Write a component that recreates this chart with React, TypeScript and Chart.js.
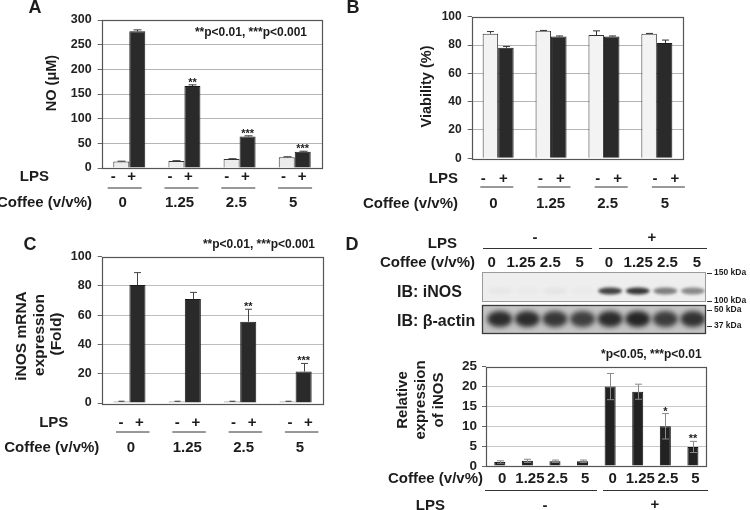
import React, { useEffect, useRef } from 'react';
import { Chart, registerables } from 'chart.js';
Chart.register(...registerables);

const FONT = '"Liberation Sans", Arial, Helvetica, sans-serif';
const INK = '#1c1c1c';

// ---------------- data ----------------
const coffeeLevels = ['0', '1.25', '2.5', '5'];
const lpsSigns = ['-', '+'];

// A: NO production
const noLpsMinus = [13, 14, 18, 22];
const noLpsPlus = [277, 166, 64, 33];
const noErrMinus = [0.8, 0.8, 0.8, 0.8];
const noErrPlus = [3, 2.5, 1.2, 1];
const noStars = ['', '**', '***', '***'];
const noTicks = [0, 50, 100, 150, 200, 250, 300];

// B: viability
const viabLpsMinus = [88, 90, 87, 88];
const viabLpsPlus = [78, 86, 86, 81.5];
const viabErrMinus = [1.5, 0.3, 3, 0.2];
const viabErrPlus = [1, 0.4, 0.4, 2];
const viabTicks = [0, 20, 40, 60, 80, 100];

// C: iNOS mRNA
const mrnaLpsMinus = [1, 1, 1, 1];
const mrnaLpsPlus = [80.5, 71, 55.5, 21.5];
const mrnaErrMinus = [0.2, 0.2, 0.2, 0.2];
const mrnaErrPlus = [8.5, 4.5, 8.5, 5.5];
const mrnaStars = ['', '', '**', '***'];
const mrnaTicks = [0, 20, 40, 60, 80, 100];

// D: western blot + relative iNOS
const blotCoffee = ['0', '1.25', '2.5', '5', '0', '1.25', '2.5', '5'];
const relInos = [1.0, 1.3, 1.2, 1.2, 20, 18.7, 10, 4.8];
const relInosErr = [0.3, 0.4, 0.3, 0.3, 3.3, 1.9, 3.2, 1.4];
const relStars = ['', '', '', '', '', '', '*', '**'];
const relTicks = [0, 5, 10, 15, 20, 25];
const inosBand = [0.03, 0.02, 0.04, 0.02, 0.85, 0.9, 0.55, 0.5];
const actinBand = [0.92, 0.92, 0.85, 0.8, 0.92, 0.96, 0.82, 0.88];
const kdaInos = ['150 kDa', '100 kDa'];
const kdaActin = ['50 kDa', '37 kDa'];

// ---------------- helpers ----------------
function T(ctx: CanvasRenderingContext2D, s: string, x: number, y: number, size: number,
  align: CanvasTextAlign = 'center', base: CanvasTextBaseline = 'middle', rot = 0, color = INK) {
  ctx.save();
  ctx.font = `bold ${size}px ${FONT}`;
  ctx.fillStyle = color;
  ctx.textAlign = align;
  ctx.textBaseline = base;
  ctx.translate(x, y);
  if (rot) ctx.rotate(rot);
  ctx.fillText(s, 0, 0);
  ctx.restore();
}
function L(ctx: CanvasRenderingContext2D, x1: number, y1: number, x2: number, y2: number, color = '#333', w = 1) {
  ctx.save();
  ctx.strokeStyle = color;
  ctx.lineWidth = w;
  ctx.beginPath();
  ctx.moveTo(x1, y1);
  ctx.lineTo(x2, y2);
  ctx.stroke();
  ctx.restore();
}

function rows(ctx: CanvasRenderingContext2D, r: any) {
  T(ctx, 'LPS', r.lpsRight, r.lpsY, 15, 'right');
  T(ctx, 'Coffee (v/v%)', r.coffeeRight, r.coffeeY, 15, 'right');
  coffeeLevels.forEach((c, i) => {
    const cx = r.x0 + i * r.step;
    T(ctx, lpsSigns[0], cx + r.mOff, r.lpsY, 15);
    T(ctx, lpsSigns[1], cx + r.pOff, r.lpsY, 15);
    L(ctx, cx + r.l0, r.lineY + 0.5, cx + r.l1, r.lineY + 0.5, '#333', 1);
    T(ctx, c, cx, r.coffeeY, 15);
  });
}

const errorBars = {
  id: 'errorBars',
  afterDatasetsDraw(chart: any) {
    const ctx = chart.ctx;
    const ys = chart.scales.y;
    chart.data.datasets.forEach((ds: any, di: number) => {
      if (!ds.errUp) return;
      const meta = chart.getDatasetMeta(di);
      meta.data.forEach((bar: any, i: number) => {
        const v = ds.data[i];
        const e = ds.errUp[i];
        const x = Math.round(bar.x) + 0.5;
        const yTop = ys.getPixelForValue(v + e);
        const yBot = ys.getPixelForValue(ds.errSym ? v - e : v);
        const c = (ds.capW || 7) / 2;
        ctx.save();
        ctx.strokeStyle = ds.errColor || '#333';
        ctx.lineWidth = 1;
        ctx.beginPath();
        ctx.moveTo(x, yBot);
        ctx.lineTo(x, yTop);
        ctx.moveTo(x - c, yTop);
        ctx.lineTo(x + c, yTop);
        if (ds.errSym) {
          ctx.moveTo(x - c, yBot);
          ctx.lineTo(x + c, yBot);
        }
        ctx.stroke();
        ctx.restore();
        if (ds.stars && ds.stars[i]) T(ctx, ds.stars[i], bar.x, yTop + 1, 11, 'center', 'alphabetic');
      });
    });
  },
};

const frame = {
  id: 'frame',
  beforeDatasetsDraw(chart: any) {
    const { ctx, chartArea: a } = chart;
    ctx.save();
    ctx.strokeStyle = '#555';
    ctx.lineWidth = 1.2;
    ctx.strokeRect(Math.round(a.left) + 0.5, Math.round(a.top) + 0.5, Math.round(a.right - a.left) - 1, Math.round(a.bottom - a.top));
    ctx.restore();
  },
};

function deco(fn: (ctx: CanvasRenderingContext2D, chart: any) => void) {
  return { id: 'deco', afterDraw(chart: any) { fn(chart.ctx, chart); } };
}

function makeBar(canvas: HTMLCanvasElement, o: any) {
  const W = 40;
  const ticks: number[] = o.ticks;
  const max = ticks[ticks.length - 1];
  return new Chart(canvas, {
    type: 'bar',
    data: { labels: o.labels, datasets: o.datasets },
    options: {
      responsive: false,
      animation: false,
      devicePixelRatio: 1,
      events: [],
      layout: {
        autoPadding: false,
        padding: { left: o.area.left - W, right: 750 - o.area.right, top: o.area.top, bottom: 510 - o.area.bottom },
      },
      plugins: { legend: { display: false }, tooltip: { enabled: false } },
      datasets: { bar: { categoryPercentage: o.catPct, barPercentage: 1 } },
      scales: {
        x: { display: false, offset: true, grid: { display: false } },
        y: {
          min: ticks[0],
          max,
          afterFit: (s: any) => { s.width = W; },
          afterBuildTicks: (s: any) => { s.ticks = ticks.map((v) => ({ value: v })); },
          ticks: { font: { family: FONT, size: o.tickSize, weight: 'bold' }, color: '#222', padding: o.tickPad ?? 6 },
          grid: {
            color: (c: any) => (c.tick && (c.tick.value === 0 || c.tick.value === max) ? 'rgba(0,0,0,0)' : o.gridColor),
            tickLength: 4,
            tickColor: '#666',
            lineWidth: 1,
          },
          border: { display: false },
        },
      },
    } as any,
    plugins: [frame, errorBars, deco(o.deco)],
  });
}

const darkBar = { backgroundColor: '#2a2a2a', borderColor: '#1a1a1a', borderWidth: 1 };

export default function App() {
  const rA = useRef<HTMLCanvasElement>(null);
  const rB = useRef<HTMLCanvasElement>(null);
  const rC = useRef<HTMLCanvasElement>(null);
  const rD = useRef<HTMLCanvasElement>(null);

  useEffect(() => {
    const charts: Chart[] = [];

    // ---- A ----
    charts.push(makeBar(rA.current!, {
      labels: coffeeLevels,
      ticks: noTicks,
      tickSize: 12.5,
      gridColor: '#b5b5b5',
      catPct: 0.58,
      area: { left: 101.7, right: 322.3, top: 20, bottom: 168 },
      datasets: [
        { label: 'LPS -', data: noLpsMinus, backgroundColor: '#ececec', borderColor: '#333', borderWidth: 1, errUp: noErrMinus, capW: 8 },
        { label: 'LPS +', data: noLpsPlus, ...darkBar, errUp: noErrPlus, stars: noStars, capW: 8 },
      ],
      deco: (ctx: CanvasRenderingContext2D) => {
        T(ctx, 'A', 35, 8, 18);
        T(ctx, '**p<0.01, ***p<0.001', 307, 33, 12, 'right');
        T(ctx, 'NO (\u03BCM)', 52, 83, 14.5, 'center', 'middle', -Math.PI / 2);
        rows(ctx, { lpsRight: 49, lpsY: 177, lineY: 187.5, coffeeRight: 92, coffeeY: 203, x0: 122.7, step: 56.8, mOff: -9.5, pOff: 9, l0: -15, l1: 19 });
      },
    }));

    // ---- B ----
    charts.push(makeBar(rB.current!, {
      labels: coffeeLevels,
      ticks: viabTicks,
      tickSize: 12,
      gridColor: '#b5b5b5',
      catPct: 0.586,
      area: { left: 471.7, right: 683.3, top: 16.7, bottom: 158.3 },
      datasets: [
        { label: 'LPS -', data: viabLpsMinus, backgroundColor: '#f3f3f3', borderColor: '#333', borderWidth: 1, errUp: viabErrMinus, capW: 7 },
        { label: 'LPS +', data: viabLpsPlus, ...darkBar, errUp: viabErrPlus, capW: 7 },
      ],
      deco: (ctx: CanvasRenderingContext2D) => {
        T(ctx, 'B', 353, 8, 18);
        T(ctx, 'Viability (%)', 427, 86.5, 14.5, 'center', 'middle', -Math.PI / 2);
        rows(ctx, { lpsRight: 458, lpsY: 178.5, lineY: 186.5, coffeeRight: 458, coffeeY: 203.5, x0: 493.3, step: 57.2, mOff: -10, pOff: 10, l0: -13, l1: 20 });
      },
    }));

    // ---- C ----
    charts.push(makeBar(rC.current!, {
      labels: coffeeLevels,
      ticks: mrnaTicks,
      tickSize: 12.5,
      gridColor: '#bdbdbd',
      catPct: 0.58,
      area: { left: 101.7, right: 323.3, top: 256.5, bottom: 403 },
      datasets: [
        { label: 'LPS -', data: mrnaLpsMinus, backgroundColor: '#a8a8a8', borderColor: '#555', borderWidth: 1, errUp: mrnaErrMinus, capW: 6 },
        { label: 'LPS +', data: mrnaLpsPlus, ...darkBar, errUp: mrnaErrPlus, stars: mrnaStars, errColor: '#444', capW: 7 },
      ],
      deco: (ctx: CanvasRenderingContext2D) => {
        T(ctx, 'C', 30, 245, 18);
        T(ctx, '**p<0.01, ***p<0.001', 315, 245, 12, 'right');
        T(ctx, 'iNOS mRNA', 22, 336, 15.5, 'center', 'middle', -Math.PI / 2);
        T(ctx, 'expression', 39.5, 335, 15.5, 'center', 'middle', -Math.PI / 2);
        T(ctx, '(Fold)', 57, 334, 15.5, 'center', 'middle', -Math.PI / 2);
        rows(ctx, { lpsRight: 68.3, lpsY: 423.3, lineY: 431.5, coffeeRight: 99.3, coffeeY: 448.3, x0: 131, step: 56.3, mOff: -10, pOff: 8.5, l0: -15, l1: 18.5 });
      },
    }));

    // ---- D ----
    charts.push(makeBar(rD.current!, {
      labels: blotCoffee,
      ticks: relTicks,
      tickSize: 13.5,
      tickPad: 5,
      gridColor: '#c8c8c8',
      catPct: 0.4,
      area: { left: 486, right: 706.7, top: 366.7, bottom: 466 },
      datasets: [
        { label: 'Relative iNOS', data: relInos, backgroundColor: '#222', borderColor: '#111', borderWidth: 1, errUp: relInosErr, errSym: true, errColor: '#8a8a8a', stars: relStars, capW: 7 },
      ],
      deco: (ctx: CanvasRenderingContext2D, chart: any) => {
        const xs = chart.scales.x;
        T(ctx, 'D', 352, 245, 18);
        // top LPS row
        T(ctx, 'LPS', 457, 243.5, 15, 'right');
        T(ctx, lpsSigns[0], 535, 237.5, 15);
        T(ctx, lpsSigns[1], 652, 237.5, 15);
        L(ctx, 483, 248.5, 592, 248.5);
        L(ctx, 599, 248.5, 707, 248.5);
        // top coffee row
        T(ctx, 'Coffee (v/v%)', 475, 263, 15, 'right');
        blotCoffee.forEach((c, i) => T(ctx, c, 491.7 + i * 29.3, 263, 15));
        // blot labels
        T(ctx, 'IB: iNOS', 397, 293, 16, 'left');
        T(ctx, 'IB: \u03B2-actin', 397, 322, 16, 'left');
        // iNOS blot
        const bx0 = 482, bx1 = 706;
        ctx.save();
        ctx.fillStyle = '#eeeeee';
        ctx.fillRect(bx0, 272, bx1 - bx0, 30);
        ctx.beginPath();
        ctx.rect(bx0, 272, bx1 - bx0, 30);
        ctx.clip();
        inosBand.forEach((a, i) => {
          const cx = xs.getPixelForValue(i);
          ctx.save();
          ctx.filter = 'blur(1.8px)';
          ctx.fillStyle = `rgba(35,35,35,${a})`;
          ctx.beginPath();
          ctx.ellipse(cx, 291, 12, 3.4, 0, 0, Math.PI * 2);
          ctx.fill();
          ctx.restore();
        });
        ctx.restore();
        ctx.save();
        ctx.strokeStyle = '#9a9a9a';
        ctx.lineWidth = 1;
        ctx.strokeRect(bx0 + 0.5, 272.5, bx1 - bx0 - 1, 29);
        ctx.restore();
        // actin blot
        ctx.save();
        ctx.fillStyle = '#c4c4c4';
        ctx.fillRect(bx0, 305, bx1 - bx0, 29);
        ctx.beginPath();
        ctx.rect(bx0, 305, bx1 - bx0, 29);
        ctx.clip();
        actinBand.forEach((a, i) => {
          const cx = xs.getPixelForValue(i);
          ctx.save();
          ctx.filter = 'blur(2.5px)';
          ctx.fillStyle = `rgba(30,30,30,${a})`;
          ctx.beginPath();
          ctx.ellipse(cx, 319, 12.5, 8, 0, 0, Math.PI * 2);
          ctx.fill();
          ctx.restore();
        });
        ctx.restore();
        ctx.save();
        ctx.strokeStyle = '#3a3a3a';
        ctx.lineWidth = 1.3;
        ctx.strokeRect(bx0 + 0.5, 305.5, bx1 - bx0 - 1, 28);
        ctx.restore();
        // kDa markers
        const kda = [[kdaInos[0], 273], [kdaInos[1], 301], [kdaActin[0], 310], [kdaActin[1], 326]];
        kda.forEach(([s, y]) => {
          L(ctx, 707, (y as number) + 0.5, 712, (y as number) + 0.5, '#333', 1);
          T(ctx, s as string, 714, y as number, 8.5, 'left');
        });
        // p text
        T(ctx, '*p<0.05, ***p<0.01', 701.7, 355, 12, 'right');
        // y title
        T(ctx, 'Relative', 403, 400, 15, 'center', 'middle', -Math.PI / 2);
        T(ctx, 'expression', 421, 400, 15, 'center', 'middle', -Math.PI / 2);
        T(ctx, 'of iNOS', 439, 400, 15, 'center', 'middle', -Math.PI / 2);
        // bottom coffee row
        T(ctx, 'Coffee (v/v%)', 483, 479, 15, 'right');
        blotCoffee.forEach((c, i) => T(ctx, c, xs.getPixelForValue(i) + 2.5, 479, 15));
        L(ctx, 485, 490.5, 597, 490.5);
        L(ctx, 603, 490.5, 708, 490.5);
        T(ctx, 'LPS', 445, 506, 15, 'right');
        T(ctx, lpsSigns[0], 545, 506, 15);
        T(ctx, lpsSigns[1], 655, 505, 15);
      },
    }));

    return () => charts.forEach((c) => c.destroy());
  }, []);

  const cs: React.CSSProperties = { position: 'absolute', left: 0, top: 0, width: 750, height: 510 };
  return (
    <div style={{ position: 'absolute', left: 0, top: 0, width: 750, height: 510, background: '#fff', overflow: 'hidden' }}>
      <canvas ref={rA} width={750} height={510} style={cs} />
      <canvas ref={rB} width={750} height={510} style={cs} />
      <canvas ref={rC} width={750} height={510} style={cs} />
      <canvas ref={rD} width={750} height={510} style={cs} />
    </div>
  );
}
